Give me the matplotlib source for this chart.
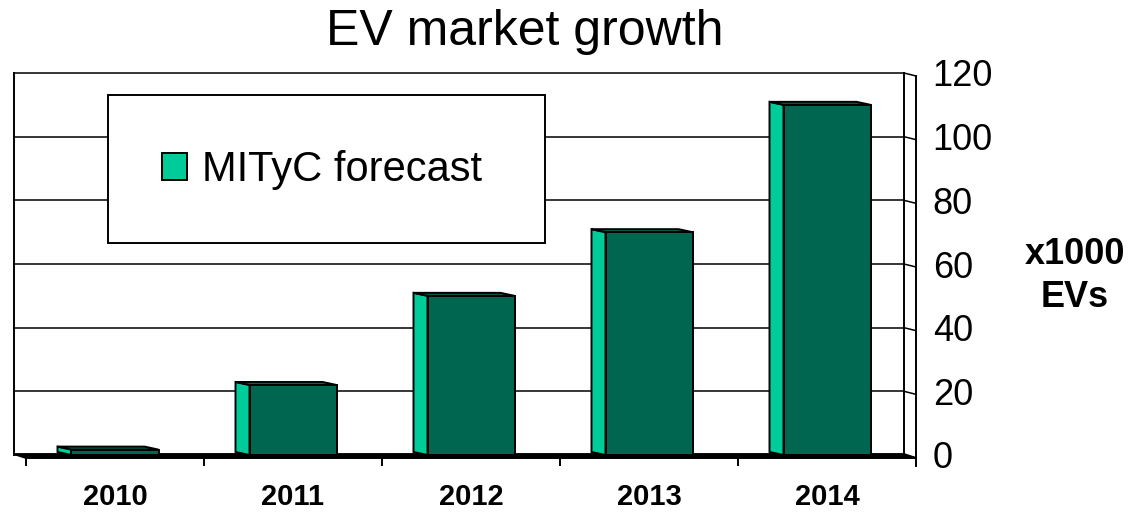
import matplotlib
matplotlib.use("Agg")
import matplotlib.pyplot as plt
from matplotlib.patches import Polygon, Rectangle, Patch
import numpy as np

plt.rcParams['font.family'] = ['Liberation Sans', 'DejaVu Sans']

years = ['2010', '2011', '2012', '2013', '2014']
values = [1.7, 22, 50, 70, 110]
series_name = 'MITyC forecast'
yticks = [0, 20, 40, 60, 80, 100, 120]

FRONT = '#006650'
SIDE = '#00CC99'

W, H = 1137, 514
fig = plt.figure(figsize=(W / 100, H / 100), dpi=100)

# pixel geometry of plot area
px_left, px_right, px_top, px_bottom = 14, 916, 73, 466
x0_px, unit_px = 26, 178.0
y0_px, yunit = 455, (455 - 73) / 120.0

def xdat(px):
    return (px - x0_px) / unit_px - 0.5

ax = fig.add_axes([px_left / W, (H - px_bottom) / H,
                   (px_right - px_left) / W, (px_bottom - px_top) / H])
ax.set_xlim(xdat(px_left), xdat(px_right))
ax.set_ylim((y0_px - px_bottom) / yunit, 120)
for s in ax.spines.values():
    s.set_visible(False)

dx = 14 / unit_px      # depth offset in x (data units)
dy = 3 / yunit         # depth offset in y (data units)
back_left = xdat(px_left)
back_right = xdat(904)
front_right = 4.5

lw = 1.4
# back wall grid
for v in yticks:
    ax.plot([back_left, back_right], [v, v], color='black', lw=1.1, zorder=1, clip_on=False)
    ax.plot([back_right, front_right], [v, v - dy], color='black', lw=1.1, zorder=1, clip_on=False)
ax.plot([back_left, back_left], [0, 120], color='black', lw=lw, zorder=1, clip_on=False)
ax.plot([back_right, back_right], [0, 120], color='black', lw=lw, zorder=1, clip_on=False)
ax.plot([front_right, front_right], [120 - dy, ax.get_ylim()[0]], color='black', lw=lw,
        zorder=1, clip_on=False)

# floor
floor = Polygon([(back_left, 0.3), (back_right, 0.3), (front_right, -dy),
                 (-0.5, -dy)], closed=True, facecolor='black', edgecolor='black',
                lw=1.4, zorder=2, clip_on=False)
ax.add_patch(floor)

# bars
x = np.arange(len(years))
bw = 87 / unit_px
bars = ax.bar(x, values, width=bw, color=FRONT, edgecolor='black', lw=lw, zorder=4)
for b in bars:
    xl = b.get_x()
    xr = xl + b.get_width()
    top = b.get_height()
    side = Polygon([(xl - dx, top + dy), (xl, top), (xl, 0), (xl - dx, dy)],
                   closed=True, facecolor=SIDE, edgecolor='black', lw=lw, zorder=3)
    topf = Polygon([(xl - dx, top + dy), (xr - dx, top + dy), (xr, top), (xl, top)],
                   closed=True, facecolor=FRONT, edgecolor='black', lw=lw, zorder=3)
    ax.add_patch(side)
    ax.add_patch(topf)

# x axis
ax.set_xticks(x)
ax.set_xticklabels(years, fontsize=21, fontweight='bold')
ax.set_xticks(np.arange(-0.5, len(years)), minor=True)
ax.tick_params(axis='x', which='major', length=0, pad=12)
ax.tick_params(axis='x', which='minor', direction='in', length=6, width=1.4, color='black')

# y axis on right
ax.yaxis.tick_right()
ax.set_yticks(yticks)
ax.set_yticklabels([str(v) for v in yticks], fontsize=26)
ax.tick_params(axis='y', length=0, pad=12)

# legend box and legend
fig.patches.append(Rectangle((108 / W, 1 - 243 / H), (545 - 108) / W, (243 - 95) / H,
                             transform=fig.transFigure, facecolor='white',
                             edgecolor='black', lw=lw, zorder=5))
leg = fig.legend(handles=[Patch(facecolor=SIDE, edgecolor='black', lw=1.4, label=series_name)],
                 loc='center left', bbox_to_anchor=(162 / W, 1 - 170 / H),
                 frameon=False, fontsize=30, handlelength=0.6, handleheight=0.6,
                 handletextpad=0.35, borderpad=0, borderaxespad=0)
leg.set_zorder(6)

fig.text(525 / W, 1 - 32 / H, 'EV market growth', fontsize=36, ha='center', va='center')
fig.text(1075 / W, 1 - 276 / H, 'x1000\nEVs', fontsize=26, fontweight='bold',
         ha='center', va='center', linespacing=1.33)

fig.savefig('out.png', dpi=100)
